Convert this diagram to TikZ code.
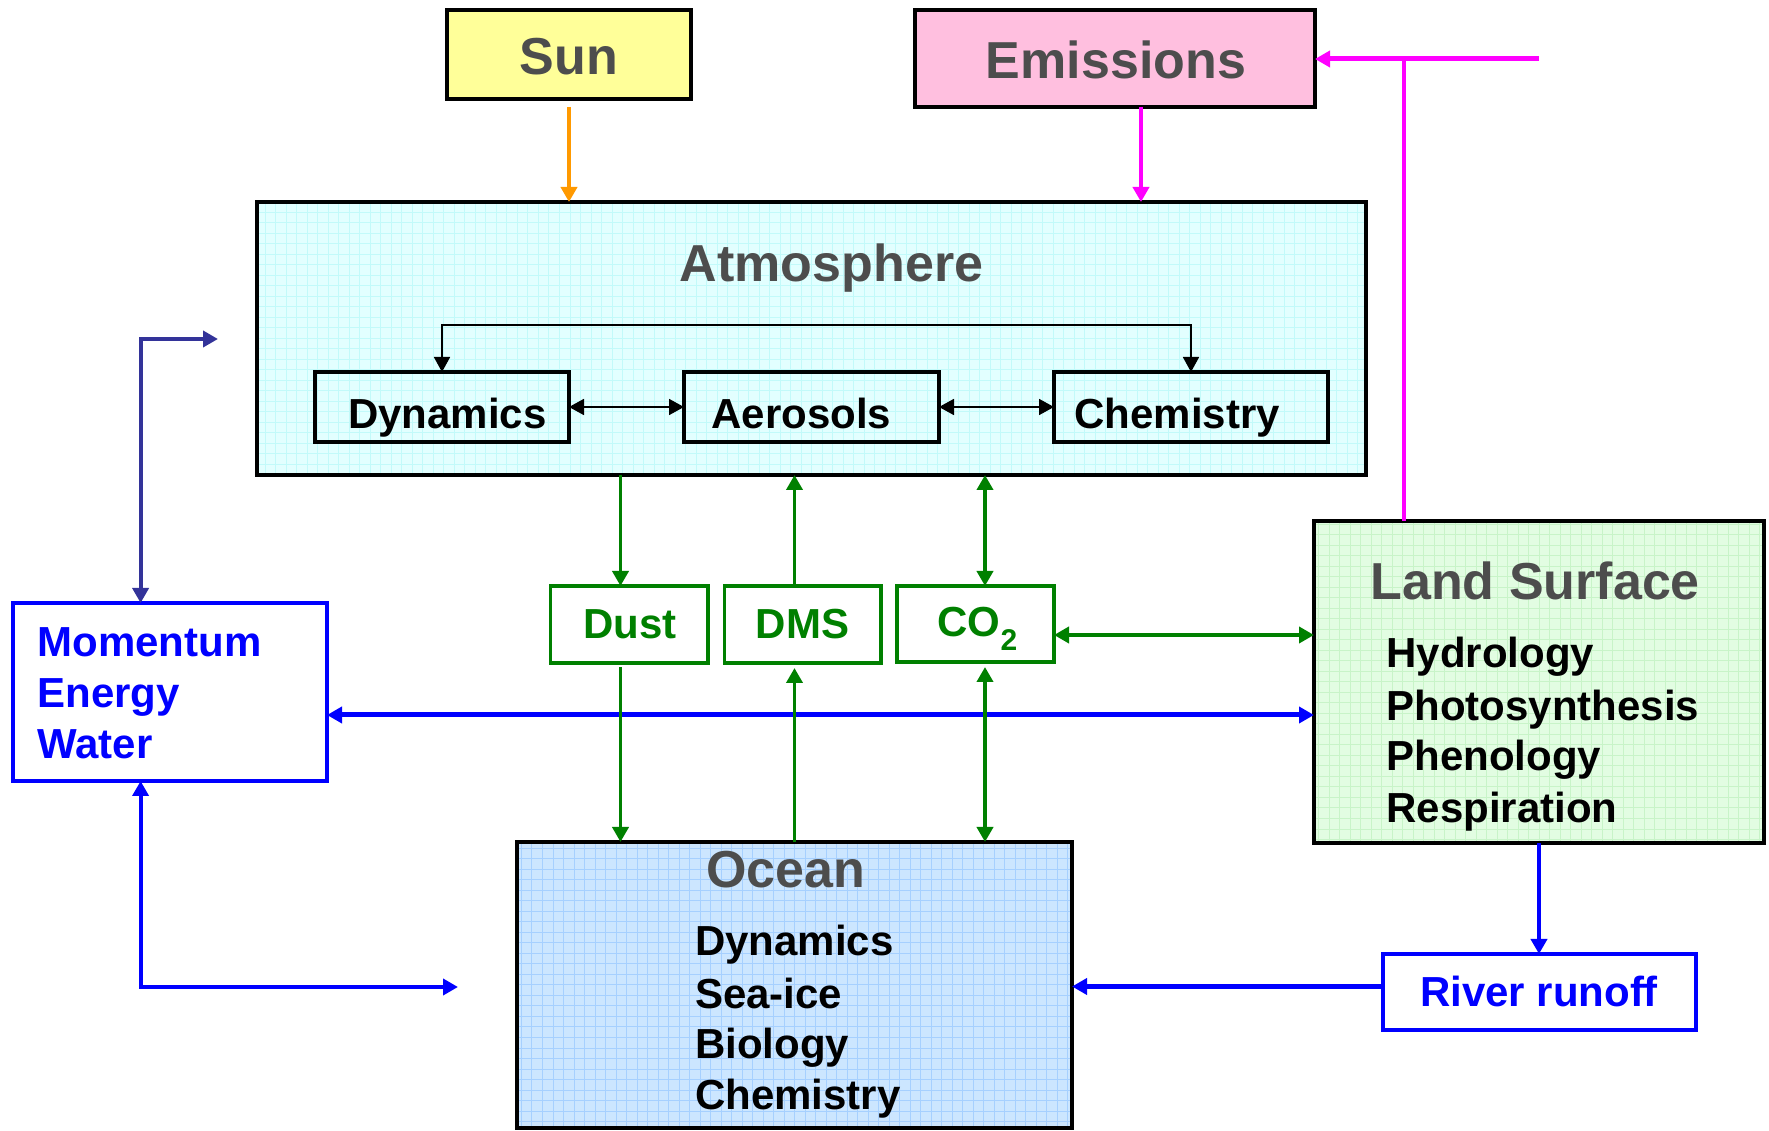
\documentclass[tikz,border=0pt]{standalone}
\usepackage{fontspec}
\setmainfont{Liberation Sans}
\usetikzlibrary{arrows.meta,calc}
\definecolor{ttl}{HTML}{4D4D4D}
\definecolor{sunfill}{HTML}{FFFF99}
\definecolor{emisfill}{HTML}{FFBFDF}
\definecolor{atmfill}{HTML}{E2FFFF}
\definecolor{atmgrid}{HTML}{C2FAFA}
\definecolor{ocnfill}{HTML}{CCE6FF}
\definecolor{ocngrid}{HTML}{A6D0FF}
\definecolor{lndfill}{HTML}{E2FDE2}
\definecolor{lndgrid}{HTML}{C8F4C8}
\definecolor{gclr}{HTML}{008000}
\definecolor{bclr}{HTML}{0000FF}
\definecolor{mclr}{HTML}{FF00FF}
\definecolor{oclr}{HTML}{FF9900}
\definecolor{dbclr}{HTML}{333399}
\tikzset{
  boxst/.style={draw=black, line width=1.4pt, outer sep=0pt, inner sep=0pt},
  gridded/.style 2 args={path picture={\draw[#1, line width=0.4pt, step=4.2pt]
      (path picture bounding box.south west) grid (path picture bounding box.north east);}},
  bigtxt/.style={font=\fontsize{20.8}{24}\selectfont\bfseries, text=ttl, inner sep=0pt},
  medtxt/.style={font=\fontsize{16.8}{20}\selectfont\bfseries, inner sep=0pt},
  onehead/.style={-{Triangle[length=6pt,width=6.4pt]}},
  twohead/.style={{Triangle[length=6pt,width=6.4pt]}-{Triangle[length=6pt,width=6.4pt]}},
  gline/.style={draw=gclr, line width=1.5pt},
  bline/.style={draw=bclr, line width=1.6pt},
  mline/.style={draw=mclr, line width=1.8pt},
  kline/.style={draw=black, line width=0.7pt},
}
\begin{document}
\begin{tikzpicture}[x=0.4pt,y=-0.4pt]
\useasboundingbox (0,0) rectangle (1769,1131);

% column / row coordinates
\coordinate (xE) at (1141,0);
\coordinate (xMag) at (1404,0);
\coordinate (xMom) at (140.6,0);
\coordinate (xDust) at (620.5,0);
\coordinate (xDMS) at (794.5,0);
\coordinate (xCO2) at (985,0);
\coordinate (yI) at (0,325);
\coordinate (yB) at (0,715);
\coordinate (yC) at (0,635);
\coordinate (yR) at (0,986.5);
\coordinate (magEnd) at (1539,59);
\coordinate (dbEnd) at (218,339);
\coordinate (bbEnd) at (458,987);

% boxes
\node[boxst, fill=sunfill, minimum width=97.6pt, minimum height=35.6pt] (sun) at (569,54.5) {};
\node[boxst, fill=emisfill, minimum width=160pt, minimum height=38.8pt] (emis) at (1115,58.5) {};
\node[boxst, line width=1.8pt, fill=atmfill, gridded={atmgrid}{}, minimum width=443.6pt, minimum height=109.2pt] (atm) at (811.5,338.5) {};
\node[boxst, line width=1.4pt, minimum width=101.6pt, minimum height=28pt] (dyn) at (442,407) {};
\node[boxst, line width=1.4pt, minimum width=102pt, minimum height=28pt] (aer) at (811.5,407) {};
\node[boxst, line width=1.4pt, minimum width=109.6pt, minimum height=28pt] (chem) at (1191,407) {};
\node[boxst, draw=bclr, line width=1.3pt, minimum width=125.6pt, minimum height=71.2pt] (mom) at (170,692) {};
\node[boxst, draw=gclr, line width=1.4pt, minimum width=63pt, minimum height=30.8pt] (dust) at (629.25,624.5) {};
\node[boxst, draw=gclr, line width=1.4pt, minimum width=62.6pt, minimum height=30.8pt] (dms) at (802.75,624.5) {};
\node[boxst, draw=gclr, line width=1.4pt, minimum width=62.8pt, minimum height=30.4pt] (co2) at (975.5,624) {};
\node[boxst, line width=1.6pt, fill=ocnfill, gridded={ocngrid}{}, minimum width=222pt, minimum height=114.4pt] (ocean) at (794.5,985) {};
\node[boxst, line width=1.6pt, fill=lndfill, gridded={lndgrid}{}, minimum width=180pt, minimum height=128.8pt] (land) at (1539,682) {};
\node[boxst, draw=bclr, line width=1.3pt, minimum width=125.2pt, minimum height=30.4pt] (river) at (1539.5,992) {};

% texts
\node[bigtxt, anchor=base] (tsun) at (569,75) {Sun};
\node[bigtxt, anchor=base] (temis) at (1116,78.6) {Emissions};
\node[bigtxt, anchor=base] (tatm) at (831.5,282) {Atmosphere};
\node[medtxt, anchor=base west] (tdyn) at (347.5,429) {Dynamics};
\node[medtxt, anchor=base west] (taer) at (711,429) {Aerosols};
\node[medtxt, anchor=base west] (tchem) at (1074,429) {Chemistry};
\node[medtxt, text=bclr, anchor=base west] (tm1) at (37,656.5) {Momentum};
\node[medtxt, text=bclr, anchor=base west] (tm2) at (37,707.5) {Energy};
\node[medtxt, text=bclr, anchor=base west] (tm3) at (37,758.5) {Water};
\node[medtxt, text=gclr, anchor=base] (tdust) at (630,639) {Dust};
\node[medtxt, text=gclr, anchor=base] (tdms) at (802.5,639) {DMS};
\node[medtxt, text=gclr, anchor=base west] (tco2) at (937,637) {CO\raisebox{-5.4pt}{\fontsize{12}{14}\selectfont 2}};
\node[bigtxt, anchor=base] (tocn) at (785.5,888) {Ocean};
\node[medtxt, anchor=base west] (to1) at (694.6,956) {Dynamics};
\node[medtxt, anchor=base west] (to2) at (694.6,1009) {Sea-ice};
\node[medtxt, anchor=base west] (to3) at (694.6,1059) {Biology};
\node[medtxt, anchor=base west] (to4) at (694.6,1110) {Chemistry};
\node[bigtxt, anchor=base west] (tland) at (1370,600) {Land Surface};
\node[medtxt, anchor=base west] (tl1) at (1386,668) {Hydrology};
\node[medtxt, anchor=base west] (tl2) at (1386,721) {Photosynthesis};
\node[medtxt, anchor=base west] (tl3) at (1386,771) {Phenology};
\node[medtxt, anchor=base west] (tl4) at (1386,823) {Respiration};
\node[medtxt, text=bclr, anchor=base] (triver) at (1539,1007) {River runoff};

% connectors
\draw[draw=oclr, line width=1.5pt, onehead, shorten <=3.2pt] (sun.south) -- (atm.north -| sun.south);
\draw[mline, line width=1.6pt, onehead] (emis.south -| xE) -- (atm.north -| xE);
\draw[mline] (land.north -| xMag) -- (xMag |- magEnd);
\draw[mline, line width=2pt, onehead] (magEnd) -- (emis.east |- magEnd);

\draw[kline, twohead] (dyn.north) -- (dyn.north |- yI) -| (chem.north);
\draw[kline, twohead] (dyn.east) -- (aer.west);
\draw[kline, twohead] (aer.east) -- (chem.west);

\draw[draw=dbclr, line width=1.6pt, twohead] (dbEnd) -| (mom.north -| xMom);
\draw[bline, twohead] (mom.south -| xMom) |- (bbEnd);
\draw[bline, line width=2pt, twohead] (mom.east |- yB) -- (land.west |- yB);

\draw[gline, onehead] (atm.south -| xDust) -- (dust.north -| xDust);
\draw[gline, onehead, shorten <=1.6pt] (dust.south -| xDust) -- (ocean.north -| xDust);
\draw[gline, onehead] (dms.north -| xDMS) -- (atm.south -| xDMS);
\draw[gline, onehead, shorten >=2pt] (ocean.north -| xDMS) -- (dms.south -| xDMS);
\draw[gline, twohead] (atm.south -| xCO2) -- (co2.north -| xCO2);
\draw[gline, twohead, shorten <=2pt] (co2.south -| xCO2) -- (ocean.north -| xCO2);
\draw[gline, line width=1.9pt, twohead] (co2.east |- yC) -- (land.west |- yC);

\draw[bline, onehead] (land.south) -- (river.north -| land.south);
\draw[bline, line width=2pt, onehead] (river.west |- yR) -- (ocean.east |- yR);
\end{tikzpicture}
\end{document}
